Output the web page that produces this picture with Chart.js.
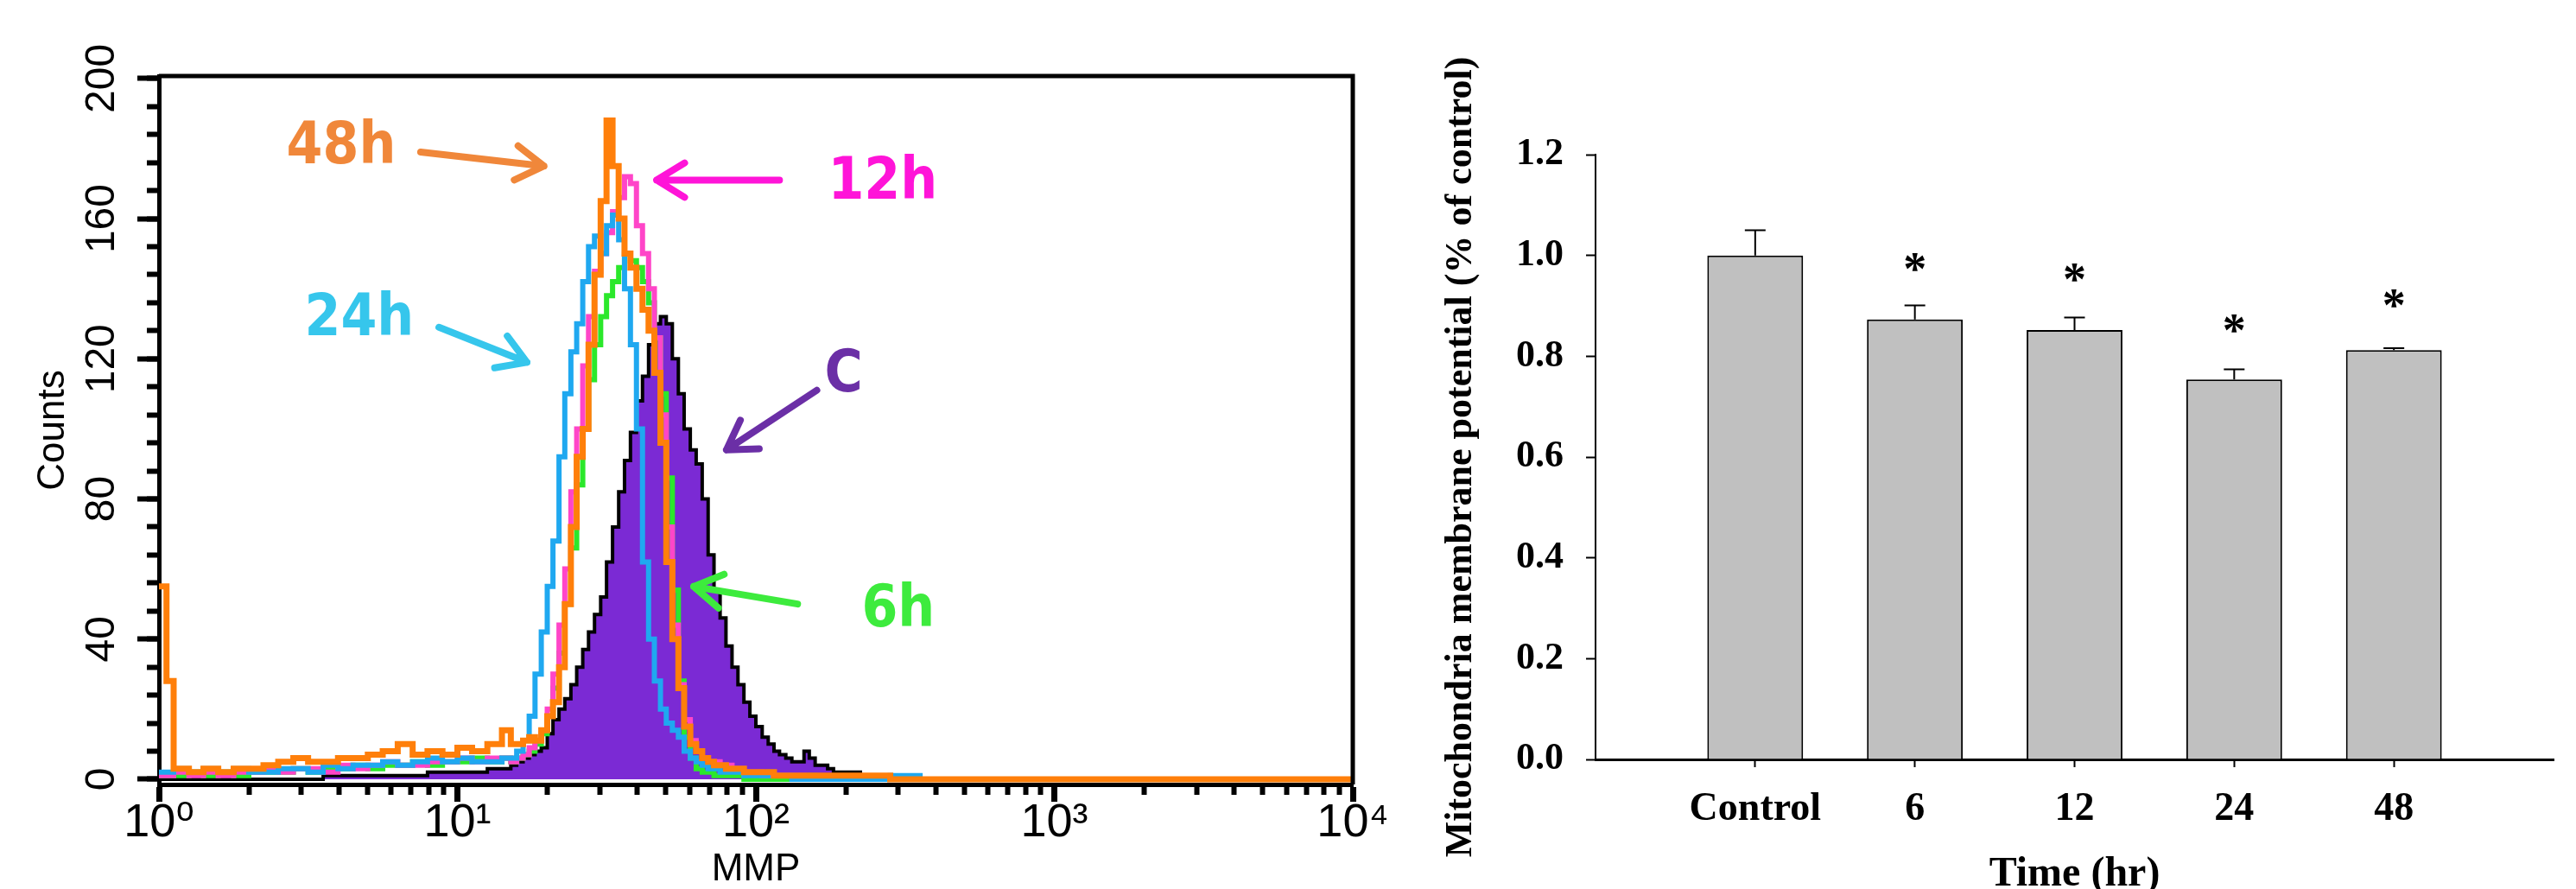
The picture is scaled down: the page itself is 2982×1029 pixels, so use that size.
<!DOCTYPE html>
<html>
<head>
<meta charset="utf-8">
<script src="https://cdn.jsdelivr.net/npm/chart.js@4.4.1/dist/chart.umd.min.js"></script>
<style>
  html, body { margin: 0; padding: 0; background: #fff; overflow: hidden; }
  #wrap { position: relative; width: 2982px; height: 1029px; overflow: hidden; }
  #hist { position: absolute; left: 0; top: 0; }
  #bars { position: absolute; left: 1600px; top: 0; }
</style>
</head>
<body>
<div id="wrap">
  <canvas id="hist" width="1640" height="1029"></canvas>
  <canvas id="bars" width="1382" height="1060"></canvas>
</div>
<script>
// ---- left panel: MMP histograms (channel = left edge of each bin) ----
const mmpBins = [1.00, 1.06, 1.12, 1.26, 1.41, 1.58, 1.78, 2.00, 2.24, 2.51, 2.82, 3.16, 3.55, 3.98, 4.47, 5.01, 5.62, 6.31, 7.08, 7.94, 8.91,
  10.0, 11.2, 12.6, 14.1, 15.1, 15.8, 16.6, 17.4, 18.2, 19.1, 20.0, 20.9, 21.9, 22.9, 24.0, 25.1, 26.3, 27.5, 28.8, 30.2, 31.6, 33.1, 34.7,
  36.3, 38.0, 39.8, 41.7, 43.7, 45.7, 47.9, 50.1, 52.5, 55.0, 57.5, 60.3, 63.1, 66.1, 69.2, 72.4, 75.9, 79.4, 83.2, 87.1, 91.2, 95.5,
  100, 105, 110, 115, 120, 126, 132, 138, 145, 151, 158, 166, 174, 182, 191, 200, 224, 251, 282, 316, 355, 10000];

const counts48h = [55, 28, 3, 2, 3, 2, 3, 3, 4, 5, 6, 5, 5, 6, 6, 7, 8, 10, 7, 8, 7, 9, 8, 10, 14,
  10, 10, 11, 12, 11, 14, 18, 22, 32, 50, 72, 92, 100, 124, 144, 165, 188, 175, 160, 150, 146, 140, 134, 128, 116, 96, 62, 40, 26, 15, 10,
  8, 6, 5, 4, 4, 3, 3, 3, 2, 2, 2, 2, 2, 1, 1, 1, 1, 1, 1, 1, 1, 1, 1, 1, 1, 1, 1, 1, 0, 0, 0, 0];
const counts24h = [2, 2, 3, 2, 3, 2, 3, 2, 2, 3, 3, 2, 4, 3, 4, 4, 5, 4, 5, 6, 5, 6, 5, 5, 6,
  6, 8, 11, 18, 30, 42, 55, 68, 92, 110, 122, 130, 142, 152, 155, 150, 158, 161, 154, 140, 124, 100, 62, 40, 28, 20, 16, 14, 12, 8, 6,
  5, 4, 3, 3, 2, 2, 2, 2, 1, 1, 1, 1, 2, 1, 1, 1, 0, 0, 0, 0, 0, 0, 0, 0, 0, 0, 0, 0, 1, 1, 0, 0];
const counts12h = [1, 1, 2, 1, 2, 1, 2, 2, 3, 2, 3, 3, 2, 4, 3, 4, 5, 4, 4, 5, 5, 6, 5, 6, 6,
  5, 6, 7, 9, 11, 14, 20, 30, 44, 60, 82, 100, 118, 132, 145, 150, 156, 162, 166, 172, 170, 158, 150, 140, 126, 104, 72, 44, 27, 17, 11,
  8, 6, 5, 5, 4, 4, 3, 3, 2, 2, 2, 1, 1, 1, 1, 1, 1, 1, 0, 0, 0, 0, 0, 0, 0, 0, 0, 0, 0, 0, 0, 0];
const counts6h = [1, 1, 1, 2, 1, 2, 1, 2, 2, 2, 3, 2, 3, 3, 4, 3, 4, 4, 5, 4, 5, 5, 6, 5, 6,
  5, 6, 7, 8, 10, 13, 18, 26, 36, 50, 66, 84, 100, 114, 124, 132, 138, 142, 146, 150, 148, 146, 142, 136, 126, 110, 86, 54, 28, 12, 6,
  3, 2, 2, 1, 1, 1, 1, 1, 0, 0, 0, 0, 0, 0, 0, 0, 0, 0, 0, 1, 0, 0, 0, 0, 0, 0, 0, 0, 0, 0, 0, 0];
const countsControl = [0, 0, 0, 0, 0, 0, 0, 0, 0, 0, 0, 0, 1, 1, 1, 1, 1, 1, 1, 2, 2, 2, 2, 3, 3,
  4, 5, 6, 7, 8, 9, 13, 17, 20, 23, 27, 32, 37, 42, 47, 52, 62, 72, 82, 91, 99, 108, 115, 124, 130, 132, 130, 120, 110, 100, 94,
  90, 80, 64, 54, 46, 38, 32, 27, 22, 18, 15, 12, 10, 8, 7, 6, 5, 5, 8, 6, 4, 4, 3, 2, 2, 2, 1, 1, 1, 0, 0, 0];

const xMajorTicks = [1, 10, 100, 1000, 10000];
const xTickLabels = ['10⁰', '10¹', '10²', '10³', '10⁴'];
const xMinorTicks = [2, 3, 4, 5, 6, 7, 8, 9, 20, 30, 40, 50, 60, 70, 80, 90, 200, 300, 400, 500, 600, 700, 800, 900,
  2000, 3000, 4000, 5000, 6000, 7000, 8000, 9000];
const yMajorTicks = [0, 40, 80, 120, 160, 200];
const yMinorTicks = [0, 8, 16, 24, 32, 40, 48, 56, 64, 72, 80, 88, 96, 104, 112, 120, 128, 136, 144, 152, 160, 168, 176, 184, 192, 200];

// arrow labels, placed in data units [MMP, counts]
const annText = ['48h', '24h', '12h', 'C', '6h'];
const annColor = ['#F0873A', '#36C6EC', '#FF14D8', '#6B2FA6', '#3DEB3D'];
const annAt = [[4.08, 180], [4.69, 131], [266, 170], [197, 115], [300, 48]];
const arrowFrom = [[7.53, 179], [8.67, 129], [120, 171], [160, 111], [138, 50]];
const arrowTo = [[19.5, 175], [17.1, 119], [46.5, 171], [79.7, 94], [61.9, 55]];

// ---- right panel: bar chart ----
const timeLabels = ['Control', '6', '12', '24', '48'];
const mmpRatio = [1.0, 0.873, 0.852, 0.754, 0.812];
const mmpSem = [0.05, 0.028, 0.025, 0.02, 0.004];
const starLevel = [null, 0.99, 0.968, 0.867, 0.918];
const yRightTicks = [0, 0.2, 0.4, 0.6, 0.8, 1.0, 1.2];

const sansFont = '"Liberation Sans", Arial, "DejaVu Sans", sans-serif';
const serifFont = '"Liberation Serif", "Times New Roman", serif';

const framePlugin = {
  id: 'frame',
  afterDraw(chart) {
    const {ctx, chartArea: a} = chart;
    ctx.save();
    ctx.strokeStyle = '#000';
    ctx.lineWidth = 5;
    ctx.beginPath();
    ctx.moveTo(a.left, a.top);
    ctx.lineTo(a.right, a.top);
    ctx.lineTo(a.right, a.bottom);
    ctx.stroke();
    ctx.restore();
  }
};

const arrowPlugin = {
  id: 'arrows',
  afterDraw(chart) {
    const {ctx, scales: {x, y}} = chart;
    ctx.save();
    ctx.lineCap = 'round';
    ctx.lineJoin = 'round';
    annText.forEach((t, i) => {
      const x0 = x.getPixelForValue(arrowFrom[i][0]), y0 = y.getPixelForValue(arrowFrom[i][1]);
      const x1 = x.getPixelForValue(arrowTo[i][0]), y1 = y.getPixelForValue(arrowTo[i][1]);
      const ang = Math.atan2(y1 - y0, x1 - x0);
      ctx.strokeStyle = annColor[i];
      ctx.lineWidth = 8;
      ctx.beginPath();
      ctx.moveTo(x0, y0);
      ctx.lineTo(x1, y1);
      ctx.moveTo(x1 - 38 * Math.cos(ang - 0.55), y1 - 38 * Math.sin(ang - 0.55));
      ctx.lineTo(x1, y1);
      ctx.lineTo(x1 - 38 * Math.cos(ang + 0.55), y1 - 38 * Math.sin(ang + 0.55));
      ctx.stroke();

      ctx.fillStyle = annColor[i];
      ctx.font = 'bold 67px "DejaVu Sans Condensed", "DejaVu Sans", sans-serif';
      ctx.textAlign = 'center';
      ctx.textBaseline = 'middle';
      ctx.fillText(t, x.getPixelForValue(annAt[i][0]), y.getPixelForValue(annAt[i][1]));
    });
    ctx.restore();
  }
};

function histSet(label, data, color, extra) {
  return Object.assign({
    label: label, data: data, borderColor: color, borderWidth: 6,
    stepped: true, pointRadius: 0, fill: false
  }, extra || {});
}

new Chart(document.getElementById('hist'), {
  type: 'line',
  data: {
    labels: mmpBins,
    datasets: [
      histSet('48h', counts48h, '#FF7F0A', {borderWidth: 7}),
      histSet('24h', counts24h, '#1FA8F0'),
      histSet('12h', counts12h, '#FF45C8'),
      histSet('6h', counts6h, '#2BE82B'),
      histSet('C', countsControl, '#000', {borderWidth: 4, fill: 'origin', backgroundColor: '#7B2AD4'})
    ]
  },
  options: {
    responsive: false,
    animation: false,
    devicePixelRatio: 1,
    layout: {padding: {left: 0, top: 88, right: 74, bottom: 0}},
    plugins: {legend: {display: false}, tooltip: {enabled: false}},
    scales: {
      x: {
        type: 'logarithmic', position: 'bottom', weight: 1, min: 1, max: 10000,
        afterBuildTicks: s => { s.ticks = xMajorTicks.map(v => ({value: v})); },
        afterFit: s => { s.height = 121; },
        ticks: {
          autoSkip: false, maxRotation: 0, padding: -2, color: '#000',
          font: {family: sansFont, size: 54, lineHeight: 1},
          callback: v => { const i = xMajorTicks.indexOf(v); return i >= 0 ? xTickLabels[i] : ''; }
        },
        grid: {drawOnChartArea: false, tickLength: 20, tickWidth: 7, tickColor: '#000'},
        border: {display: true, color: '#000', width: 5},
        title: {display: true, text: 'MMP', color: '#000', font: {family: sansFont, size: 44, lineHeight: 1}, padding: 0}
      },
      x2: {
        type: 'logarithmic', position: 'bottom', weight: 0, min: 1, max: 10000,
        afterBuildTicks: s => { s.ticks = xMinorTicks.map(v => ({value: v})); },
        afterFit: s => { s.height = 0; },
        ticks: {display: false, autoSkip: false},
        grid: {drawOnChartArea: false, tickLength: 12, tickWidth: 6, tickColor: '#000'},
        border: {display: false}
      },
      y: {
        type: 'linear', position: 'left', weight: 1, min: -1.5, max: 200.7,
        afterBuildTicks: s => { s.ticks = yMajorTicks.map(v => ({value: v})); },
        afterFit: s => { s.width = 184; },
        ticks: {
          autoSkip: false, minRotation: 90, maxRotation: 90, crossAlign: 'center', padding: 0, color: '#000',
          font: {family: sansFont, size: 48, lineHeight: 1}
        },
        grid: {drawOnChartArea: false, tickLength: 25, tickWidth: 6, tickColor: '#000'},
        border: {display: true, color: '#000', width: 5},
        title: {display: true, text: 'Counts', color: '#000', font: {family: sansFont, size: 44, lineHeight: 1}, padding: {top: 40, bottom: 0}}
      },
      y2: {
        type: 'linear', position: 'left', weight: 0, min: -1.5, max: 200.7,
        afterBuildTicks: s => { s.ticks = yMinorTicks.map(v => ({value: v})); },
        afterFit: s => { s.width = 0; },
        ticks: {display: false, autoSkip: false},
        grid: {drawOnChartArea: false, tickLength: 14, tickWidth: 6, tickColor: '#000'},
        border: {display: false}
      }
    }
  },
  plugins: [framePlugin, arrowPlugin]
});

const errorBarPlugin = {
  id: 'errorBars',
  afterDatasetsDraw(chart) {
    const {ctx, scales: {y}} = chart;
    const meta = chart.getDatasetMeta(0);
    ctx.save();
    ctx.strokeStyle = '#000';
    ctx.lineWidth = 2;
    mmpRatio.forEach((v, i) => {
      const bar = meta.data[i + 1];
      const top = y.getPixelForValue(v + mmpSem[i]);
      ctx.beginPath();
      ctx.moveTo(bar.x, bar.y);
      ctx.lineTo(bar.x, top);
      ctx.moveTo(bar.x - 12, top);
      ctx.lineTo(bar.x + 12, top);
      ctx.stroke();
    });
    ctx.fillStyle = '#000';
    ctx.font = 'bold 54px ' + serifFont;
    ctx.textAlign = 'center';
    ctx.textBaseline = 'alphabetic';
    starLevel.forEach((v, i) => {
      if (v == null) return;
      const bar = meta.data[i + 1];
      ctx.fillText('*', bar.x, y.getPixelForValue(v) + 27);
    });
    ctx.restore();
  }
};

new Chart(document.getElementById('bars'), {
  type: 'bar',
  data: {
    labels: [''].concat(timeLabels, ['']),
    datasets: [{
      data: [null].concat(mmpRatio, [null]),
      backgroundColor: '#C0C0C0',
      borderColor: '#000',
      borderWidth: 2,
      barPercentage: 0.6,
      categoryPercentage: 1
    }]
  },
  options: {
    responsive: false,
    animation: false,
    devicePixelRatio: 1,
    layout: {padding: {left: 0, top: 179, right: 18, bottom: 0}},
    plugins: {legend: {display: false}, tooltip: {enabled: false}},
    scales: {
      x: {
        offset: false,
        afterFit: s => { s.height = 181; },
        ticks: {autoSkip: false, maxRotation: 0, padding: 26, color: '#000',
          font: {family: serifFont, weight: 'bold', size: 46, lineHeight: 1}},
        grid: {offset: false, drawOnChartArea: false, tickLength: 9, tickWidth: 2,
          tickColor: c => (c.index === 0 || c.index === timeLabels.length + 1) ? 'rgba(0,0,0,0)' : '#000'},
        border: {color: '#000', width: 3},
        title: {display: true, text: 'Time (hr)', color: '#000',
          font: {family: serifFont, weight: 'bold', size: 48, lineHeight: 1}, padding: {top: 0, bottom: 23}}
      },
      y: {
        min: 0, max: 1.2,
        afterBuildTicks: s => { s.ticks = yRightTicks.map(v => ({value: v})); },
        afterFit: s => { s.width = 247; },
        ticks: {padding: 26, color: '#000', font: {family: serifFont, weight: 'bold', size: 44, lineHeight: 1},
          callback: v => Number(v).toFixed(1)},
        grid: {drawOnChartArea: false, tickLength: 11, tickWidth: 2, tickColor: '#000'},
        border: {color: '#000', width: 2},
        title: {display: true, text: 'Mitochondria membrane potential (% of control)', color: '#000',
          font: {family: serifFont, weight: 'bold', size: 44, lineHeight: 1}, padding: {top: 70, bottom: 0}}
      }
    }
  },
  plugins: [errorBarPlugin]
});
</script>
</body>
</html>
